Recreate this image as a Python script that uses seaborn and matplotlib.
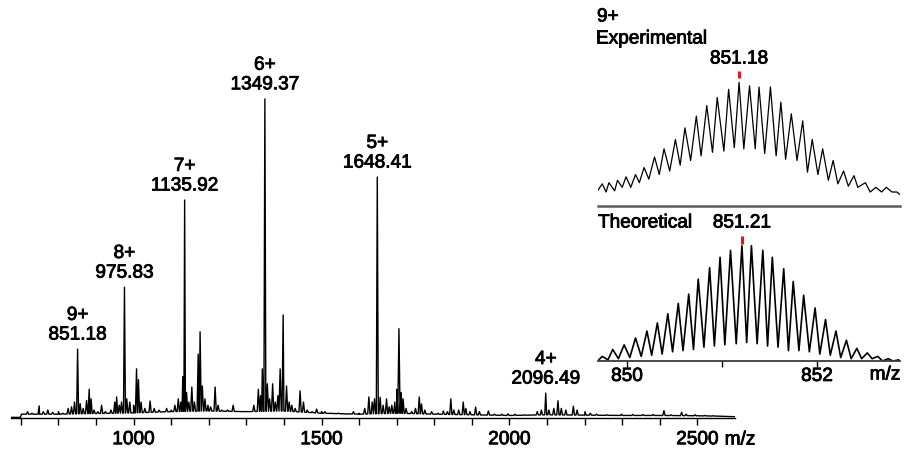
import numpy as np
import pandas as pd
import matplotlib
matplotlib.use("Agg")
import matplotlib.pyplot as plt
import matplotlib.patheffects as pe
import seaborn as sns

# ---------------- data ----------------
# labelled charge-state peaks of the full ESI spectrum
charge_labels = ["9+", "8+", "7+", "6+", "5+", "4+"]
charge_mz = [851.18, 975.83, 1135.92, 1349.37, 1648.41, 2096.49]
charge_int = [0.216, 0.41, 0.683, 1.0, 0.755, 0.078]

# smaller peaks / noise of the full spectrum (m/z, relative intensity)
minor_mz = [705, 718, 730, 749, 760, 772, 785, 800, 812, 826, 835, 843, 858, 866,
            875, 882, 887, 895, 905, 915, 925, 940, 950, 955, 962, 968, 982, 990,
            1000, 1008, 1013, 1020, 1030, 1044, 1055, 1068, 1080, 1088, 1100, 1110,
            1119, 1126, 1131, 1141, 1147, 1155, 1162, 1172, 1177, 1183, 1190, 1198,
            1205, 1217, 1225, 1235, 1250, 1265, 1278, 1292, 1305, 1320, 1332, 1338,
            1342.5, 1356, 1362, 1370, 1377, 1384, 1390, 1398, 1407, 1414, 1421, 1430,
            1443, 1452, 1462, 1475, 1487, 1500, 1509, 1525, 1545, 1565, 1585, 1600,
            1615, 1626, 1635, 1641, 1656, 1664, 1673, 1680, 1687, 1695, 1700, 1706,
            1712, 1717, 1725, 1740, 1750, 1760, 1766, 1775, 1793, 1810, 1824, 1835,
            1844, 1852, 1865, 1877, 1884, 1895, 1910, 1920, 1944, 1960, 1980, 1996,
            2015, 2040, 2074, 2085, 2105, 2118, 2129, 2138, 2150, 2170, 2180, 2201,
            2215, 2232, 2260, 2298, 2328, 2355, 2382, 2411, 2430, 2458, 2470, 2494,
            2520, 2541]
minor_int = [0.012, 0.02, 0.015, 0.038, 0.02, 0.025, 0.018, 0.02, 0.015, 0.03, 0.035, 0.05, 0.045, 0.03,
             0.055, 0.09, 0.06, 0.025, 0.02, 0.04, 0.02, 0.025, 0.05, 0.066, 0.04, 0.05, 0.06, 0.05,
             0.04, 0.154, 0.12, 0.05, 0.03, 0.053, 0.03, 0.025, 0.02, 0.03, 0.025, 0.04,
             0.06, 0.05, 0.13, 0.08, 0.05, 0.097, 0.05, 0.2, 0.27, 0.1, 0.06, 0.04,
             0.035, 0.097, 0.04, 0.025, 0.025, 0.04, 0.02, 0.02, 0.02, 0.04, 0.09, 0.07,
             0.154, 0.107, 0.06, 0.107, 0.05, 0.07, 0.154, 0.323, 0.1, 0.05, 0.04, 0.03,
             0.085, 0.05, 0.025, 0.02, 0.028, 0.02, 0.02, 0.015, 0.015, 0.012, 0.02, 0.015,
             0.03, 0.066, 0.05, 0.06, 0.065, 0.04, 0.06, 0.035, 0.04, 0.05, 0.09, 0.28,
             0.08, 0.06, 0.03, 0.02, 0.03, 0.066, 0.044, 0.025, 0.02, 0.015, 0.022, 0.02,
             0.06, 0.025, 0.025, 0.05, 0.03, 0.02, 0.034, 0.02, 0.022, 0.012, 0.012, 0.013,
             0.012, 0.01, 0.02, 0.025, 0.025, 0.03, 0.054, 0.03, 0.025, 0.037, 0.025, 0.02,
             0.015, 0.012, 0.01, 0.012, 0.011, 0.011, 0.011, 0.023, 0.01, 0.018, 0.012, 0.01,
             0.008, 0.007]

# baseline level of the full spectrum
baseline_mz = [674, 699, 702, 750, 800, 900, 1000, 1100, 1200, 1300, 1400, 1500, 1600,
               1700, 1800, 1900, 2000, 2100, 2200, 2300, 2400, 2500, 2550, 2600]
baseline_int = [0.002, 0.002, 0.012, 0.012, 0.012, 0.014, 0.016, 0.02, 0.022, 0.02, 0.022,
                0.015, 0.012, 0.015, 0.012, 0.01, 0.008, 0.01, 0.009, 0.008, 0.008, 0.007,
                0.006, 0.004]

main_ticks = [700, 800, 900, 1000, 1100, 1200, 1300, 1400, 1500, 1600, 1700, 1800,
              1900, 2000, 2100, 2200, 2300, 2400, 2500]
main_tick_labels = ["", "", "", "1000", "", "", "", "", "1500", "", "", "", "",
                    "2000", "", "", "", "", "2500"]

# 9+ isotope cluster, experimental trace (vertices)
exp_mz = [849.69, 849.74, 849.78, 849.81, 849.87, 849.90, 849.95, 849.99, 850.04, 850.09,
          850.13, 850.18, 850.23, 850.29, 850.34, 850.39, 850.45, 850.51, 850.56, 850.61,
          850.67, 850.73, 850.78, 850.84, 850.90, 850.95, 851.02, 851.07, 851.13, 851.18,
          851.23, 851.29, 851.35, 851.39, 851.45, 851.51, 851.57, 851.62, 851.67, 851.73,
          851.79, 851.85, 851.90, 851.95, 852.01, 852.06, 852.12, 852.17, 852.22, 852.28,
          852.33, 852.39, 852.43, 852.51, 852.56, 852.62, 852.68, 852.73, 852.79, 852.84,
          852.87]
exp_int = [0.07, 0.13, 0.06, 0.14, 0.07, 0.16, 0.10, 0.19, 0.10, 0.21,
           0.14, 0.27, 0.17, 0.36, 0.21, 0.43, 0.24, 0.51, 0.29, 0.61,
           0.33, 0.71, 0.37, 0.80, 0.40, 0.87, 0.41, 0.94, 0.44, 1.00,
           0.43, 0.97, 0.43, 0.96, 0.39, 0.96, 0.37, 0.83, 0.34, 0.73,
           0.33, 0.67, 0.23, 0.51, 0.21, 0.43, 0.16, 0.33, 0.13, 0.24,
           0.11, 0.20, 0.10, 0.14, 0.06, 0.10, 0.06, 0.10, 0.06, 0.06,
           0.04]
exp_apex = 851.18

# 9+ isotope cluster, theoretical trace (vertices)
theo_mz = [849.69, 849.74, 849.80, 849.85, 849.91, 849.97, 850.03, 850.09, 850.15, 850.21,
           850.26, 850.32, 850.37, 850.43, 850.48, 850.54, 850.59, 850.65, 850.70, 850.75,
           850.81, 850.87, 850.92, 850.98, 851.03, 851.09, 851.15, 851.21, 851.26, 851.31,
           851.37, 851.43, 851.48, 851.53, 851.59, 851.65, 851.70, 851.75, 851.81, 851.86,
           851.92, 851.98, 852.03, 852.09, 852.14, 852.20, 852.25, 852.31, 852.36, 852.42,
           852.47, 852.53, 852.58, 852.64, 852.69, 852.75, 852.80, 852.86, 852.87]
theo_int = [0.00, 0.04, 0.01, 0.10, 0.02, 0.14, 0.03, 0.20, 0.04, 0.26,
            0.05, 0.33, 0.06, 0.41, 0.08, 0.50, 0.09, 0.58, 0.10, 0.71,
            0.12, 0.81, 0.13, 0.90, 0.14, 0.96, 0.15, 1.00, 0.16, 1.00,
            0.15, 0.96, 0.13, 0.90, 0.12, 0.80, 0.09, 0.69, 0.09, 0.57,
            0.08, 0.46, 0.06, 0.36, 0.05, 0.26, 0.03, 0.18, 0.02, 0.11,
            0.02, 0.07, 0.02, 0.04, 0.00, 0.02, 0.00, 0.01, 0.00]
theo_apex = 851.21

inset_ticks = [850, 851, 852]
inset_tick_labels = ["850", "", "852"]

# ---------------- style ----------------
sns.set_theme(style="white")
plt.rcParams["font.family"] = ["Liberation Sans", "DejaVu Sans"]
FS = 13.7
W, H = 908, 452
HEAVY = [pe.withStroke(linewidth=0.6, foreground="black")]

fig = plt.figure(figsize=(W / 100, H / 100), dpi=100)


def fbox(x0, y0, x1, y1):
    """figure rectangle from pixel coordinates (top-left origin)"""
    return [x0 / W, 1 - y1 / H, (x1 - x0) / W, (y1 - y0) / H]


def ftext(x, y, s, **kw):
    fig.text(x / W, 1 - y / H, s, fontsize=FS, color="black", path_effects=HEAVY, **kw)


# ---------------- full spectrum ----------------
ax = fig.add_axes(fbox(11, 60, 735, 419))
ax.set_facecolor("none")

pk_mz = np.r_[charge_mz, minor_mz]
pk_h = np.r_[charge_int, minor_int]
pk_w = np.r_[[2.6] * len(charge_mz), [3.0] * len(minor_mz)]
feet = np.interp(pk_mz, baseline_mz, baseline_int)
xs = np.concatenate([baseline_mz, pk_mz - pk_w, pk_mz, pk_mz + pk_w])
ys = np.concatenate([baseline_int, feet, pk_h, feet])
order = np.argsort(xs, kind="stable")
spec = pd.DataFrame({"mz": xs[order], "intensity": ys[order]})
sns.lineplot(data=spec, x="mz", y="intensity", sort=False, estimator=None,
             color="black", linewidth=1.0, ax=ax)

ax.set_xlim(674, 2600)
ax.set_ylim(0, 1.125)
ax.set_xlabel("")
ax.set_ylabel("")
ax.set_yticks([])
ax.set_xticks(main_ticks)
ax.set_xticklabels(main_tick_labels, fontsize=FS)
for t in ax.get_xticklabels():
    t.set_path_effects(HEAVY)
ax.tick_params(axis="x", direction="out", length=5, width=1, color="black",
               pad=4.5, bottom=True, labelcolor="black")
for s in ["left", "right", "top"]:
    ax.spines[s].set_visible(False)
ax.spines["bottom"].set_color("black")
ax.spines["bottom"].set_linewidth(1.0)

for lab, mz, h in zip(charge_labels, charge_mz, charge_int):
    ax.annotate(f"{lab}\n{mz:.2f}", xy=(mz, h), xytext=(0, 4), textcoords="offset points",
                ha="center", va="bottom", multialignment="center", fontsize=FS,
                color="black", annotation_clip=False, path_effects=HEAVY)

ftext(740, 441, "m/z", ha="center", va="center")

# ---------------- experimental inset ----------------
ax1 = fig.add_axes(fbox(598, 60, 900, 207))
ax1.set_facecolor("none")
exp_df = pd.DataFrame({"mz": exp_mz, "intensity": exp_int})
sns.lineplot(data=exp_df, x="mz", y="intensity", sort=False, estimator=None,
             color="black", linewidth=0.9, ax=ax1)
ax1.set_xlim(849.695, 852.874)
ax1.set_ylim(-0.06, 1.20)
ax1.set_xticks([])
ax1.set_yticks([])
ax1.set_xlabel("")
ax1.set_ylabel("")
for s in ["left", "right", "top"]:
    ax1.spines[s].set_visible(False)
ax1.spines["bottom"].set_color("#5a5a5a")
ax1.spines["bottom"].set_linewidth(1.8)
ax1.vlines(exp_apex, 1.037, 1.097, color="#e8141b", linewidth=2.2, clip_on=False)
ax1.text(exp_apex, 1.20, f"{exp_apex:.2f}", ha="center", va="center", fontsize=FS,
         color="black", clip_on=False, path_effects=HEAVY)

ftext(597, 18, "9+", ha="left", va="center")
ftext(596, 40, "Experimental", ha="left", va="center")

# ---------------- theoretical inset ----------------
ax2 = fig.add_axes(fbox(598, 230, 900, 362))
ax2.set_facecolor("none")
theo_df = pd.DataFrame({"mz": theo_mz, "intensity": theo_int})
sns.lineplot(data=theo_df, x="mz", y="intensity", sort=False, estimator=None,
             color="black", linewidth=1.2, ax=ax2)
ax2.set_xlim(849.695, 852.874)
ax2.set_ylim(0, 1.145)
ax2.set_yticks([])
ax2.set_xticks(inset_ticks)
ax2.set_xticklabels(inset_tick_labels, fontsize=FS)
for t in ax2.get_xticklabels():
    t.set_path_effects(HEAVY)
ax2.tick_params(axis="x", direction="out", length=4, width=1, color="black",
                pad=1.0, bottom=True, labelcolor="black")
ax2.set_xlabel("")
ax2.set_ylabel("")
for s in ["left", "right", "top"]:
    ax2.spines[s].set_visible(False)
ax2.spines["bottom"].set_color("#3a3a3a")
ax2.spines["bottom"].set_linewidth(1.3)
ax2.vlines(theo_apex, 1.015, 1.087, color="#e8141b", linewidth=2.2, clip_on=False)
ax2.text(theo_apex, 1.197, f"{theo_apex:.2f}", ha="center", va="center", fontsize=FS,
         color="black", clip_on=False, path_effects=HEAVY)

ftext(598, 224, "Theoretical", ha="left", va="center")
ftext(885, 376, "m/z", ha="center", va="center")

fig.savefig("out.png", dpi=100)
